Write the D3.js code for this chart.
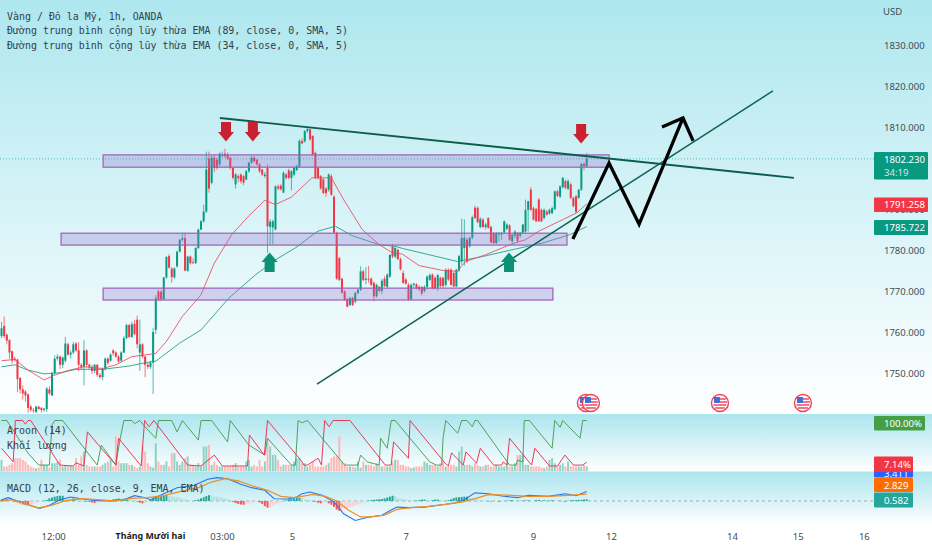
<!DOCTYPE html>
<html><head><meta charset="utf-8">
<script src="https://cdn.jsdelivr.net/npm/d3@7"></script>
<style>
html,body{margin:0;padding:0;background:#fff;overflow:hidden}
svg{display:block}
.mono{font-family:"DejaVu Sans Mono",monospace;font-size:9.95px;fill:#33424d}
.ax text{font-family:"Noto Sans",sans-serif;font-size:9.5px;fill:#3f4c55}
.tag{font-family:"Noto Sans",sans-serif;font-size:9.6px;fill:#fff}
</style></head><body><div id="c"></div>
<script>
const titleLines=["Vàng / Đô la Mỹ, 1h, OANDA","Đường trung bình cộng lũy thừa EMA (89, close, 0, SMA, 5)","Đường trung bình cộng lũy thừa EMA (34, close, 0, SMA, 5)"];
const priceTicks=[1830,1820,1810,1790,1780,1770,1760,1750];
const timeTickIdx=[19.4,55.8,82.9,109.2,152,199.8,229.1,274.6,299.3,324.2];
const timeTickLabels=["12:00","Tháng Mười hai","03:00","5","7","9","12","14","15","16"];
const opens=[1759.0,1761.5,1759.3,1758.0,1755.3,1753.5,1753.3,1748.8,1746.0,1745.5,
1744.8,1741.8,1741.0,1740.5,1741.8,1741.5,1741.0,1741.2,1746.0,1744.5,
1750.0,1753.5,1754.0,1752.0,1753.0,1757.0,1754.5,1755.0,1757.2,1755.5,
1752.0,1751.5,1755.5,1752.0,1751.5,1750.5,1752.0,1749.5,1749.0,1751.0,
1753.5,1753.0,1755.5,1755.0,1754.0,1753.0,1755.0,1758.5,1761.7,1758.8,
1762.0,1763.0,1755.0,1757.0,1754.0,1752.0,1751.5,1752.5,1760.5,1769.9,
1769.8,1768.0,1773.3,1778.5,1775.5,1773.3,1776.0,1779.6,1782.5,1782.9,
1774.9,1778.4,1777.0,1776.8,1780.5,1785.0,1787.0,1789.4,1802.3,1796.4,
1802.5,1802.0,1800.9,1803.0,1803.5,1803.3,1802.5,1800.0,1796.0,1798.0,
1798.4,1798.0,1797.2,1799.2,1801.3,1802.5,1802.0,1800.9,1799.6,1798.0,
1800.0,1785.6,1785.5,1785.0,1795.5,1795.7,1794.0,1798.4,1799.4,1797.6,
1798.4,1799.5,1800.4,1806.6,1806.5,1809.0,1809.4,1807.8,1803.7,1800.0,
1798.0,1797.2,1795.0,1794.7,1798.0,1793.0,1784.2,1778.0,1773.0,1769.9,
1768.0,1766.6,1768.3,1767.4,1769.5,1770.3,1774.8,1772.7,1773.0,1773.0,
1772.0,1768.7,1771.0,1770.0,1773.0,1771.0,1773.5,1780.9,1778.4,1780.0,
1777.8,1774.4,1772.8,1771.5,1768.0,1771.5,1771.6,1771.0,1771.0,1770.0,
1771.0,1772.7,1774.0,1773.2,1770.8,1773.2,1773.2,1771.5,1775.2,1775.2,
1774.4,1771.1,1775.0,1777.2,1780.5,1782.5,1780.9,1783.0,1790.3,1790.3,
1785.6,1787.4,1785.6,1787.8,1785.6,1784.1,1781.7,1783.8,1783.8,1784.3,
1785.2,1786.0,1782.1,1783.5,1784.1,1783.5,1784.2,1784.5,1789.8,1794.7,
1790.2,1790.0,1792.3,1789.8,1787.8,1789.4,1788.9,1789.0,1790.0,1794.3,
1793.0,1795.3,1796.8,1794.9,1796.0,1792.7,1793.1,1792.7,1794.7,1801.0,1800.4];
const closes=[1760.9,1759.0,1757.9,1755.0,1753.0,1753.2,1748.5,1746.0,1745.0,1744.5,
1741.5,1741.0,1740.8,1741.8,1741.2,1741.0,1741.3,1746.2,1745.0,1750.0,
1753.5,1754.0,1752.0,1753.8,1757.2,1754.5,1755.0,1757.0,1755.5,1752.0,
1751.5,1755.5,1752.0,1751.5,1750.5,1752.0,1749.5,1749.0,1751.0,1753.5,
1752.5,1754.5,1754.8,1754.0,1752.8,1755.0,1758.5,1761.7,1758.8,1761.9,
1759.5,1757.0,1757.0,1754.0,1752.0,1751.5,1752.5,1760.0,1768.2,1767.9,
1768.0,1773.3,1778.3,1775.7,1773.4,1775.5,1779.6,1782.5,1782.9,1775.0,
1778.4,1776.8,1776.9,1780.5,1785.0,1787.0,1789.4,1799.6,1795.0,1802.5,
1800.0,1800.0,1803.5,1803.3,1802.9,1802.3,1800.0,1797.6,1798.4,1797.5,
1796.8,1796.4,1799.2,1801.3,1802.5,1801.7,1800.9,1799.2,1798.4,1798.4,
1785.8,1786.9,1787.0,1795.5,1795.0,1794.8,1798.8,1797.6,1797.6,1799.2,
1800.0,1800.5,1806.6,1806.0,1809.0,1809.5,1807.0,1803.3,1797.6,1797.6,
1795.0,1793.9,1793.9,1798.4,1793.5,1784.2,1773.0,1772.7,1769.6,1767.9,
1766.2,1768.3,1766.6,1769.5,1770.3,1774.8,1772.7,1773.0,1772.8,1771.5,
1768.7,1771.5,1770.0,1772.5,1771.2,1774.0,1778.8,1778.4,1780.5,1777.8,
1775.3,1772.0,1771.8,1767.9,1771.5,1771.8,1770.7,1770.4,1769.4,1771.0,
1773.5,1773.9,1770.7,1770.7,1773.9,1771.2,1771.2,1775.2,1772.8,1771.5,
1771.1,1775.2,1778.5,1782.9,1783.0,1777.2,1783.0,1788.0,1787.8,1786.8,
1787.6,1785.6,1786.2,1785.4,1781.9,1781.7,1784.1,1784.1,1784.2,1787.0,
1786.2,1782.5,1783.7,1784.5,1782.2,1784.2,1786.2,1789.8,1791.9,1789.8,
1787.4,1787.0,1787.0,1787.0,1789.8,1788.6,1789.8,1790.2,1794.3,1793.2,
1795.5,1797.6,1795.2,1796.8,1792.7,1790.7,1789.3,1794.7,1801.0,1800.5,1802.23];
const highs=[1762.5,1763.8,1759.7,1758.3,1755.5,1754.0,1753.5,1749.0,1747.0,1745.8,
1745.0,1742.3,1741.5,1742.0,1742.0,1741.7,1741.5,1746.6,1746.8,1750.3,
1754.3,1754.6,1754.3,1754.0,1758.8,1757.4,1755.5,1757.6,1757.5,1757.5,
1752.4,1758.0,1755.8,1752.3,1752.0,1752.2,1752.2,1750.0,1751.3,1753.8,
1753.8,1754.8,1755.8,1755.3,1754.4,1755.3,1759.0,1762.0,1762.0,1762.5,
1763.0,1764.0,1763.0,1757.3,1754.2,1752.5,1753.0,1761.0,1769.0,1770.3,
1770.2,1773.4,1778.5,1779.0,1775.8,1775.8,1779.8,1782.7,1784.2,1784.2,
1778.6,1778.7,1778.0,1780.7,1785.2,1787.3,1791.0,1804.0,1804.0,1803.0,
1803.2,1802.5,1803.8,1804.0,1804.7,1803.8,1802.8,1800.2,1798.8,1798.5,
1798.7,1798.3,1799.5,1801.5,1803.0,1803.0,1802.3,1801.2,1799.8,1799.0,
1800.9,1787.5,1787.4,1795.8,1796.0,1796.0,1799.2,1798.8,1799.8,1799.5,
1800.2,1800.8,1807.0,1807.2,1809.2,1810.0,1809.7,1808.0,1804.0,1800.3,
1798.3,1797.5,1795.3,1798.7,1798.5,1793.3,1784.5,1778.3,1773.3,1770.2,
1768.3,1768.6,1768.6,1769.8,1770.6,1776.0,1775.2,1775.8,1776.1,1773.3,
1772.3,1771.8,1771.3,1773.0,1773.6,1774.3,1779.0,1781.5,1780.9,1780.3,
1778.2,1775.0,1773.2,1772.0,1771.8,1772.0,1771.9,1771.4,1771.2,1771.4,
1773.8,1774.3,1774.3,1773.6,1774.1,1773.5,1773.5,1775.5,1775.5,1775.5,
1774.7,1775.4,1778.8,1787.6,1787.5,1783.0,1783.2,1788.4,1790.8,1790.6,
1788.0,1787.8,1786.6,1788.0,1786.0,1784.4,1784.4,1784.4,1784.3,1787.2,
1786.5,1786.3,1783.9,1784.8,1784.4,1784.4,1786.4,1792.3,1792.0,1795.3,
1790.6,1790.3,1792.7,1790.1,1790.1,1789.8,1790.1,1790.6,1794.5,1794.7,
1795.8,1797.8,1797.2,1797.2,1796.4,1793.0,1793.4,1794.9,1801.2,1801.4,1803.7];
const lows=[1758.5,1758.5,1757.0,1753.5,1752.3,1752.8,1745.3,1745.0,1743.5,1743.0,
1740.3,1740.5,1740.2,1740.2,1741.0,1740.3,1740.5,1740.5,1744.6,1744.5,
1749.5,1753.0,1751.0,1751.2,1752.5,1754.2,1753.5,1754.6,1755.2,1750.5,
1750.8,1747.0,1751.5,1751.0,1749.8,1750.0,1749.0,1748.6,1748.2,1750.6,
1752.0,1752.8,1754.2,1753.6,1752.4,1752.7,1754.8,1758.2,1758.5,1758.6,
1759.2,1756.0,1750.5,1753.6,1749.0,1751.0,1751.0,1744.9,1759.5,1767.5,
1767.6,1767.8,1773.0,1775.5,1772.0,1773.0,1775.7,1779.4,1782.0,1774.8,
1774.7,1776.5,1776.6,1776.6,1780.2,1784.8,1786.7,1789.0,1794.0,1796.0,
1799.0,1799.6,1800.4,1802.6,1802.5,1802.0,1799.6,1797.2,1795.0,1796.5,
1796.2,1795.8,1797.0,1798.8,1801.0,1801.3,1800.6,1798.8,1798.0,1797.6,
1779.3,1781.3,1781.3,1784.8,1794.6,1794.5,1793.9,1797.2,1797.2,1794.5,
1798.0,1799.2,1800.0,1805.8,1806.2,1808.6,1806.7,1803.0,1797.2,1797.2,
1794.7,1793.6,1793.0,1794.2,1793.2,1784.0,1772.7,1772.4,1769.3,1767.6,
1766.0,1766.3,1766.3,1767.0,1769.2,1770.0,1772.4,1771.6,1772.0,1771.2,
1767.5,1768.4,1769.6,1769.2,1771.0,1770.8,1773.2,1778.0,1778.0,1777.5,
1775.0,1771.7,1771.5,1767.6,1767.8,1770.8,1770.4,1770.0,1768.9,1769.6,
1770.5,1772.4,1770.4,1770.4,1770.0,1770.8,1770.8,1771.0,1772.5,1771.3,
1770.9,1770.9,1774.6,1776.4,1776.2,1776.8,1780.6,1782.6,1787.5,1786.5,
1785.3,1785.3,1785.0,1785.2,1781.6,1781.4,1781.4,1782.0,1782.4,1784.0,
1784.8,1782.2,1781.6,1782.9,1781.9,1783.0,1783.9,1784.2,1784.5,1789.5,
1787.2,1786.8,1786.8,1786.8,1787.5,1788.4,1788.6,1788.7,1789.7,1792.9,
1792.7,1795.0,1794.8,1794.6,1792.4,1790.4,1789.0,1792.4,1794.4,1799.5,1800.2];
const volumes=[35,15,15,20,25,40,40,40,35,30,
20,15,12,10,12,35,20,20,12,25,
25,30,35,15,18,15,18,15,40,20,
45,60,20,15,15,15,15,15,20,25,
30,35,15,105,30,25,25,25,20,20,
15,10,15,80,60,25,15,12,85,30,
20,20,30,15,55,55,30,20,30,40,
45,20,20,15,25,15,75,75,80,20,
30,20,15,15,15,15,15,20,25,15,
15,15,30,35,15,20,15,35,15,30,
100,75,50,50,35,15,20,20,20,20,
30,40,40,25,25,15,20,30,15,15,
15,15,20,25,40,45,45,105,30,25,
15,15,15,12,30,12,30,20,20,20,
15,25,20,15,15,15,15,30,35,35,
20,20,15,15,10,12,15,15,15,30,
25,20,20,20,15,25,30,15,15,20,
20,15,60,75,20,20,20,15,25,20,
15,15,20,20,15,15,20,15,15,15,
25,15,15,25,50,50,50,20,20,15,
15,15,15,12,10,15,35,40,25,15,
20,25,15,30,15,15,15,15,15,20,15];
const macdHist=[.4,.5,.6,.5,.3,-.3,-.5,-.8,-1.2,-1.4,
-1.5,-1.3,-1,-.5,-.2,-.1,.1,.4,.9,1.2,
1.5,1.7,1.8,1.8,1.2,1,.9,.9,.8,.7,
.3,-.1,-.2,-.3,-.5,-.7,-.6,-.5,-.2,-.1,
.1,.2,.6,.7,.9,.8,.8,.9,.6,.4,
.2,-.2,-.6,-.8,-.7,-.4,.5,1,1.3,1.5,
1.7,1.9,2,1.7,1.6,1.4,1.3,1.2,.8,.5,
.3,.2,.1,.3,.5,.9,1.3,1.7,2,1.9,
1.6,1.5,1.3,1.1,.9,.6,.1,-.3,-.7,-1,
-1.2,-1.3,-1.1,-.8,-.6,-.5,-.4,-.5,-1,-1.8,
-2.3,-2.2,-1.5,-1.1,-.8,-.5,-.2,.2,.6,.8,
1,1.1,1.1,1,.6,.4,.2,-.1,-.3,-.6,
-.8,-.6,-.3,-.8,-1.3,-2,-3,-3.4,-3.3,-2.6,
-2.4,-2.2,-1.9,-1.6,-1.2,-.8,-.5,-.3,.1,.3,
.4,.5,.6,.7,.9,1.2,1.5,1.8,1.7,1,
.9,.7,.5,.3,.1,.1,.1,.3,.5,.5,
.4,.2,.3,.5,.5,.3,.2,.1,.3,.6,
1,1.2,1.3,1.4,1.5,1.5,1.1,.9,.7,.5,
.2,.1,.05,-.1,-.2,-.2,-.1,-.3,-.3,-.2,
.1,.2,.3,.1,.05,.1,.1,.2,.2,.1,
.05,.3,.4,.3,.3,.1,.2,.3,.2,.1,
.1,-.1,-.2,.1,.2,.3,.3,.4,.4,.5,.58];
const ema34=[[0,1753],[5,1753.3],[10,1750.7],[16,1748.3],[20,1749.5],[25,1750.6],[31,1751.5],[38,1751.1],[43,1752],[49,1754],[54,1754.4],[58,1754.8],[62,1757.7],[68,1763.8],[75,1769.1],[80,1776.8],[86.5,1783.7],[92.8,1788.2],[99,1792.1],[103,1791.1],[109,1792.9],[116.7,1797.6],[124,1797.6],[129,1791.9],[135.6,1785],[142,1781.3],[147,1779.3],[150.7,1779],[157,1776.2],[166,1775],[171.4,1774.8],[174.5,1777.2],[182,1778.85],[192,1781.5],[197,1782.5],[202,1784.6],[211,1787.4],[216.6,1789.2],[220,1791.26]];
const ema89=[[0,1751.5],[5,1752],[10,1750.7],[16,1749.8],[22.6,1750.1],[28,1750.9],[38,1750.9],[48,1751.7],[54,1752.5],[58,1752.9],[67,1757.3],[75,1760.5],[85.5,1768.3],[95.6,1774],[104,1778],[110.7,1780.6],[117,1783.7],[119,1784.6],[125.5,1785.8],[131.8,1783.5],[142,1781.3],[148,1780.9],[150.7,1780.4],[160.7,1778.85],[171.4,1777.2],[180.8,1778.4],[190.9,1779.9],[203.4,1781.7],[213.5,1783.7],[220,1785.72]];
const aroonUp=[[0,100],[2,100],[10,28],[14,2],[18,2],[19,90],[20,100],[23,100],[36,2],[37.5,46],[43,2],[44.5,57],[46,100],[49,100],[50,93],[52,100],[54,86],[58,61],[59,100],[64,100],[66,75],[68,100],[74,57],[75,100],[79,100],[85,53],[86,100],[93,46],[99,24],[100,61],[109,2],[110.5,2],[111.5,100],[113,95],[115,100],[129,2],[134,2],[135,24],[137.5,9],[142,2],[142.5,61],[145,39],[146.5,100],[148,100],[161,9],[163.5,2],[165.5,2],[166,61],[167,100],[171.5,72],[173,100],[175,100],[177,86],[178,100],[179,100],[191,2],[193.5,2],[194,13],[196,9],[196.5,100],[198.5,100],[207,39],[208,100],[210,85],[211,100],[217.5,61],[218.5,100],[220,100]];
const aroonDown=[[0,39],[4.4,9],[5.2,100],[8,100],[9,92],[10,100],[11,100],[22,2],[27,0],[28,7],[31,0],[32.3,75],[37.5,39],[43,2],[44,61],[52.5,0],[53.8,100],[55.5,86],[57.3,100],[70,2],[75,0],[80,24],[83,0],[92.5,0],[93.2,68],[98.8,24],[100,100],[112.5,13],[113.7,2],[115,2],[119,17],[120.3,2],[121.5,100],[123.2,86],[124.6,100],[131,100],[144.3,2],[146.5,2],[147.4,53],[153,17],[153.6,100],[166.8,6],[168,0],[169.2,29],[173.6,2],[174.6,31],[178.6,6],[180,39],[185,2],[188,2],[188.6,9],[190,2],[191,61],[199.3,2],[200.5,39],[206,0],[209,0],[211.8,24],[215,2],[218.6,2],[219.5,7],[220,7.14]];
const macdLine=[[0,.46],[2.5,1.15],[6,0],[10.6,-1.5],[14.4,-2.6],[18,-1.5],[22,.46],[26,1.4],[30,.8],[35,.23],[41,0],[46,.46],[50,1.84],[54,1.15],[56,.46],[61,2.5],[66,4.6],[72.5,5.4],[77.5,7.5],[81,8.05],[85,7.7],[90,5.75],[94,4.6],[99,3.7],[102.5,.8],[107.5,.7],[111,1.4],[113,2.5],[116,3.1],[120.5,2],[125,-.3],[128.6,-4.4],[133,-6.7],[137.4,-5.7],[143,-4.9],[146.8,-2.9],[148.6,-2.1],[153,-2.3],[159,-2.1],[165.5,-1.3],[170.5,-.7],[174,.46],[178,2.8],[183,2.5],[188,1.7],[194,1.15],[198,2],[205.5,1.6],[212,2.5],[216,1.8],[220,3.3]];
const signalLine=[[0,0],[3.75,.46],[8.75,-.9],[13.75,-2.4],[18.75,-1.5],[23.75,0],[30,.8],[36,.46],[42.5,0],[49,.9],[55,1.15],[61,1.84],[67.5,3.3],[74,4.6],[79,6.55],[84,7.7],[89,6.9],[95,5],[100,3.7],[105,1.6],[110,1.15],[113,1.6],[117,2.3],[121.75,1.6],[126,0],[130.5,-3.2],[135,-5.5],[138.6,-5.5],[144,-4.9],[148.6,-2.9],[154,-2.3],[160.5,-1.84],[167,-1.15],[173,-.35],[178,.8],[183,2.2],[190.5,2],[198,1.6],[205.5,1.6],[213,1.95],[220,2.4]];
const zoneRows=[[38.2,228.4,1800.2,1803.2],[22.4,212.6,1781.2,1784.1],[38.2,207.3,1767.8,1770.7]];
const trendDown=[[82.1,1812.2],[297.9,1797.6]];
const trendUp=[[118.6,1747.3],[290,1818.8]];
const zigzag=[[214.8,1782.7],[228.4,1801.2],[239.7,1786.3],[256.2,1812.2]];
const arrowHead=[[248.3,1810],[256.2,1812.2],[260,1806.6]];
const downArrows=[[84.4,1808.8],[94.5,1808.8],[217.9,1808.3]];
const upArrows=[[100.8,1777.1],[190.8,1777.1]];
const flagIdx=[219.7,221.6,270.1,301.3];
const tags=[
 {t:"1802.230",s:"34:19",c:"#089981",y0:152,y1:179.5,w:54},
 {t:"1791.258",c:"#f23645",y0:197.5,y1:212,w:54},
 {t:"1785.722",c:"#089981",y0:220,y1:235,w:54},
 {t:"100.00%",c:"#43a047",y0:416,y1:430.5,w:51},
 {t:"3.411",c:"#2962ff",y0:470,y1:477.5,w:39},
 {t:"7.14%",c:"#f23645",y0:456.5,y1:472,w:39},
 {t:"2.829",c:"#ff6d00",y0:478,y1:492,w:39},
 {t:"0.582",c:"#26a69a",y0:492.5,y1:507.5,w:39}];

const W=932,H=550,N=closes.length,GREEN="#089981",RED="#f23645";
const svg=d3.select("#c").append("svg").attr("width",W).attr("height",H);
const defs=svg.append("defs");
function grad(id,top){const g=defs.append("linearGradient").attr("id",id).attr("x1",0).attr("y1",0).attr("x2",0).attr("y2",1);
 g.append("stop").attr("offset",0).attr("stop-color",top);g.append("stop").attr("offset",1).attr("stop-color","#fff");}
grad("gMain","#aee7ef");grad("gSub","#ace5ee");
defs.append("clipPath").attr("id","cMain").append("rect").attr("width",880).attr("height",414);
defs.append("clipPath").attr("id","cAr").append("rect").attr("y",414).attr("width",880).attr("height",57.5);
defs.append("clipPath").attr("id","cMa").append("rect").attr("y",471.5).attr("width",880).attr("height",60);
svg.append("rect").attr("width",W).attr("height",414).attr("fill","url(#gMain)");
svg.append("rect").attr("y",414).attr("width",W).attr("height",57.5).attr("fill","url(#gSub)");
svg.append("rect").attr("y",471.5).attr("width",W).attr("height",54).attr("fill","url(#gSub)");

const x=d3.scaleLinear().domain([0,N-1]).range([1.5,586.7]);
const y=d3.scaleLinear().domain([1750,1830]).range([373,45]);
const yAr=d3.scaleLinear().domain([0,100]).range([466,420.5]);
const yVol=d3.scaleLinear().domain([0,120]).range([471.5,431.5]);
const yMa=d3.scaleLinear().domain([-10,10]).range([530,472]);
const lineMain=d3.line().x(d=>x(d[0])).y(d=>y(d[1]));
const lineAr=d3.line().x(d=>x(d[0])).y(d=>yAr(d[1]));
const lineMa=d3.line().x(d=>x(d[0])).y(d=>yMa(d[1]));
const idx=d3.range(N);
const up=i=>closes[i]>=opens[i];

const main=svg.append("g").attr("clip-path","url(#cMain)");
main.append("line").attr("x1",0).attr("x2",880).attr("y1",y(closes[N-1])).attr("y2",y(closes[N-1])).attr("stroke",GREEN).attr("stroke-opacity",.6).attr("stroke-dasharray","1 2");
main.selectAll(".wick").data(idx).join("line").attr("x1",x).attr("x2",x).attr("y1",i=>y(highs[i])).attr("y2",i=>y(lows[i])).attr("stroke",i=>up(i)?GREEN:RED).attr("stroke-width",.9).attr("stroke-opacity",.75);
main.selectAll(".body").data(idx).join("rect").attr("x",i=>x(i)-1).attr("width",2).attr("y",i=>y(Math.max(opens[i],closes[i]))).attr("height",i=>Math.max(.8,Math.abs(y(opens[i])-y(closes[i])))).attr("fill",i=>up(i)?GREEN:RED);
main.append("path").attr("d",lineMain(ema89)).attr("fill","none").attr("stroke","#1f9c7c").attr("stroke-width",1).attr("stroke-opacity",.85);
main.append("path").attr("d",lineMain(ema34)).attr("fill","none").attr("stroke","#ea4a5a").attr("stroke-width",1).attr("stroke-opacity",.85);
main.selectAll(".zone").data(zoneRows).join("rect").attr("x",d=>x(d[0])).attr("width",d=>x(d[1])-x(d[0])).attr("y",d=>y(d[3])).attr("height",d=>y(d[2])-y(d[3])).attr("fill","#9575cd").attr("fill-opacity",.3).attr("stroke","#9c5fb5").attr("stroke-width",1.2);
main.append("path").attr("d",lineMain(trendUp)).attr("stroke","#0b6350").attr("stroke-width",1.5).attr("fill","none");
main.append("path").attr("d",lineMain(trendDown)).attr("stroke","#0b5e4c").attr("stroke-width",1.8).attr("fill","none");
main.append("path").attr("d",lineMain(zigzag)).attr("stroke","#000").attr("stroke-width",3.3).attr("fill","none").attr("stroke-linejoin","miter");
main.append("path").attr("d",lineMain(arrowHead)).attr("stroke","#000").attr("stroke-width",3.3).attr("fill","none");
const arrowShape="M-5,-10H5V0H8L0,9.5L-8,0H-5Z";
main.selectAll(".da").data(downArrows).join("path").attr("d",arrowShape).attr("fill","#c9212f").attr("transform",d=>`translate(${x(d[0])},${y(d[1])})`);
main.selectAll(".ua").data(upArrows).join("path").attr("d",arrowShape).attr("fill","#0a9272").attr("transform",d=>`translate(${x(d[0])},${y(d[1])}) scale(1,-1)`);
const fl=svg.selectAll(".flag").data(flagIdx).join("g").attr("transform",d=>`translate(${x(d)},403)`);
fl.append("circle").attr("r",8.5).attr("fill","#fff").attr("stroke","#f0415a").attr("stroke-width",1.4);
fl.append("path").attr("d","M-6,-6H0V0H-6Z").attr("fill","#3f6fd8");
fl.append("path").attr("d","M0,-4H6M0,-1H7M-6.5,2H6.5M-5,5H5").attr("stroke","#ee4a5e").attr("stroke-width",1.4);

const ar=svg.append("g").attr("clip-path","url(#cAr)");
ar.selectAll(".v").data(idx).join("rect").attr("x",i=>x(i)-1).attr("width",2).attr("y",i=>yVol(volumes[i])).attr("height",i=>yVol(0)-yVol(volumes[i])).attr("fill",i=>up(i)?"#8fd2c5":"#fcb8b6");
ar.append("path").attr("d",lineAr(aroonUp)).attr("fill","none").attr("stroke","#4fa05f").attr("stroke-width",1);
ar.append("path").attr("d",lineAr(aroonDown)).attr("fill","none").attr("stroke","#e8395a").attr("stroke-width",1);

const ma=svg.append("g").attr("clip-path","url(#cMa)");
ma.append("line").attr("x1",0).attr("x2",880).attr("y1",yMa(0)).attr("y2",yMa(0)).attr("stroke","#8a9aa0").attr("stroke-dasharray","3 3").attr("stroke-width",.8);
function hcol(i){const v=macdHist[i],p=i?macdHist[i-1]:0;return v>=0?(v>=p?"#26a69a":"#b2dfdb"):(v<p?"#ff5252":"#ffcdd2");}
ma.selectAll(".h").data(idx).join("rect").attr("x",i=>x(i)-1).attr("width",2).attr("y",i=>yMa(Math.max(0,macdHist[i]))).attr("height",i=>Math.abs(yMa(macdHist[i])-yMa(0))).attr("fill",hcol);
ma.append("path").attr("d",lineMa(macdLine)).attr("fill","none").attr("stroke","#2f73e8").attr("stroke-width",1.1);
ma.append("path").attr("d",lineMa(signalLine)).attr("fill","none").attr("stroke","#ee8f2a").attr("stroke-width",1.3);

svg.selectAll(".tl").data(titleLines).join("text").attr("class","mono").attr("x",7).attr("y",(d,i)=>[19.5,34.2,49][i]).text(d=>d);
[["Aroon (14)",434.2],["Khối lượng",449],["MACD (12, 26, close, 9, EMA, EMA)",491.8]].forEach(d=>svg.append("text").attr("class","mono").attr("x",7).attr("y",d[1]).text(d[0]));

const ya=svg.append("g").attr("class","ax").attr("transform","translate(884,0)").call(d3.axisRight(y).tickValues(priceTicks).tickSize(0).tickPadding(0).tickFormat(d3.format(".3f")));
ya.select(".domain").remove();
svg.append("text").attr("x",883).attr("y",15).attr("font-family","Noto Sans").attr("font-size",9.5).attr("fill","#3f4c55").text("USD");
const xa=svg.append("g").attr("class","ax").attr("transform","translate(0,533)").call(d3.axisBottom(x).tickValues(timeTickIdx).tickSize(0).tickPadding(0).tickFormat((d,i)=>timeTickLabels[i]));
xa.select(".domain").remove();
xa.selectAll("text").filter((d,i)=>i===1).attr("font-weight","700").style("fill","#222").style("font-size","8.9px");

const tg=svg.selectAll(".tg").data(tags).join("g");
tg.append("rect").attr("x",874).attr("y",d=>d.y0).attr("width",d=>d.w).attr("height",d=>d.y1-d.y0).attr("rx",1).attr("fill",d=>d.c);
tg.append("text").attr("class","tag").attr("x",884).attr("y",d=>d.s?162.5:(d.y0+d.y1)/2+3.5).text(d=>d.t);
tg.filter(d=>d.s).append("text").attr("class","tag").attr("x",884).attr("y",176).attr("opacity",.8).text(d=>d.s);
</script></body></html>
